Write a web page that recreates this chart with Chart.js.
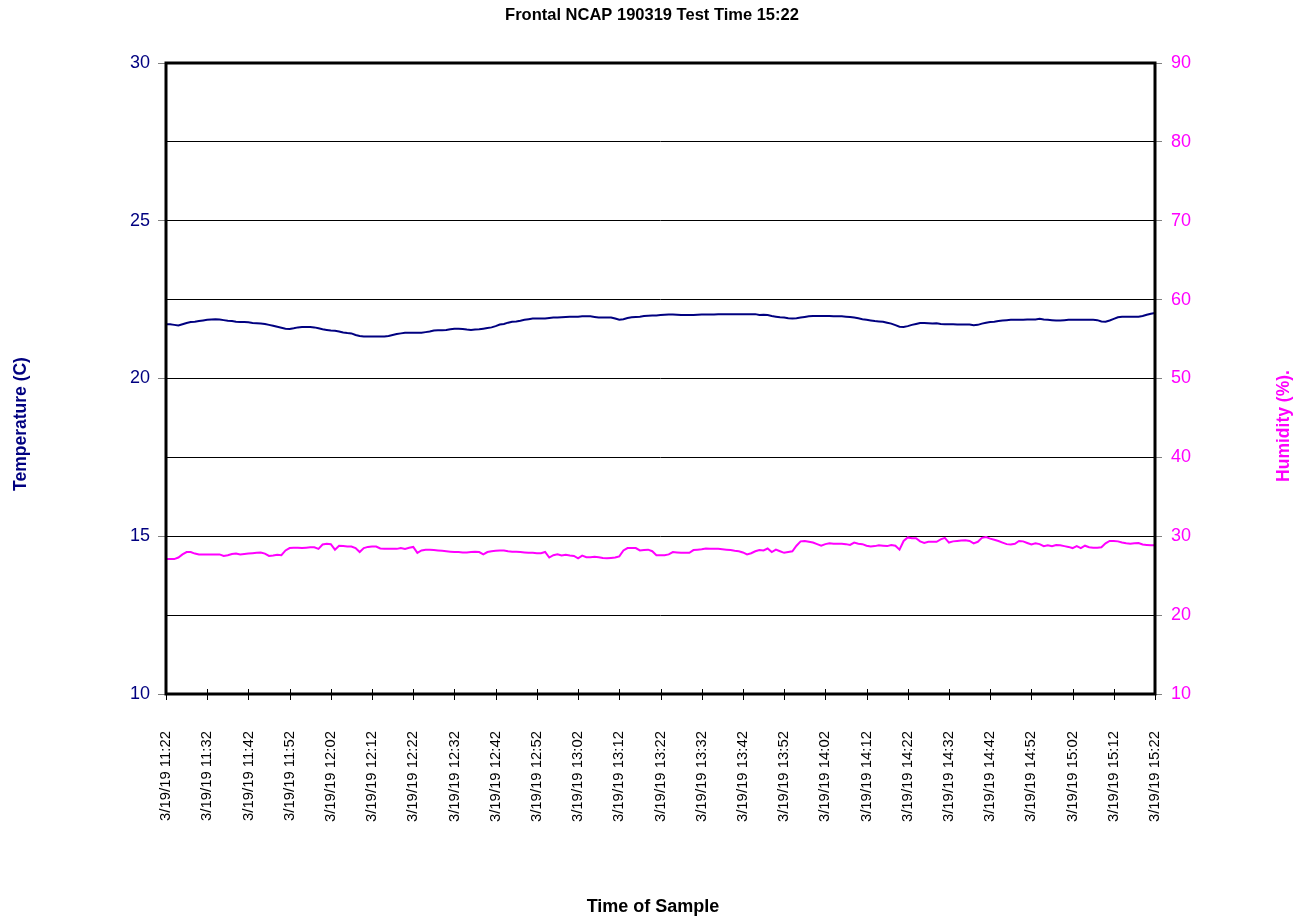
<!DOCTYPE html>
<html>
<head>
<meta charset="utf-8">
<title>Frontal NCAP 190319 Test Time 15:22</title>
<script src="https://cdn.jsdelivr.net/npm/chart.js@4/dist/chart.umd.min.js"></script>
<style>
  html, body { margin: 0; padding: 0; background: #fff; }
  canvas { display: block; }
</style>
</head>
<body>
<canvas id="chart" width="1308" height="920"></canvas>
<script>
// One reading per minute, 11:22 to 15:22 on 3/19/19
const tickLabels = [
  '3/19/19 11:22', '3/19/19 11:32', '3/19/19 11:42', '3/19/19 11:52', '3/19/19 12:02',
  '3/19/19 12:12', '3/19/19 12:22', '3/19/19 12:32', '3/19/19 12:42', '3/19/19 12:52',
  '3/19/19 13:02', '3/19/19 13:12', '3/19/19 13:22', '3/19/19 13:32', '3/19/19 13:42',
  '3/19/19 13:52', '3/19/19 14:02', '3/19/19 14:12', '3/19/19 14:22', '3/19/19 14:32',
  '3/19/19 14:42', '3/19/19 14:52', '3/19/19 15:02', '3/19/19 15:12', '3/19/19 15:22'
];

// Temperature (C)
const temperature = [
  21.72, 21.72, 21.70, 21.68, 21.72, 21.76, 21.79, 21.80, 21.82, 21.84,
  21.86, 21.87, 21.88, 21.87, 21.85, 21.83, 21.82, 21.80, 21.79, 21.79,
  21.78, 21.76, 21.75, 21.74, 21.73, 21.70, 21.67, 21.64, 21.61, 21.58,
  21.57, 21.59, 21.62, 21.63, 21.63, 21.63, 21.62, 21.59, 21.56, 21.54,
  21.52, 21.51, 21.49, 21.46, 21.44, 21.43, 21.38, 21.35, 21.33, 21.33,
  21.33, 21.33, 21.33, 21.33, 21.35, 21.38, 21.41, 21.43, 21.45, 21.45,
  21.45, 21.45, 21.45, 21.47, 21.49, 21.52, 21.53, 21.53, 21.54, 21.56,
  21.58, 21.58, 21.57, 21.55, 21.54, 21.55, 21.56, 21.58, 21.60, 21.62,
  21.66, 21.71, 21.73, 21.77, 21.80, 21.81, 21.83, 21.86, 21.88, 21.90,
  21.90, 21.90, 21.90, 21.92, 21.93, 21.93, 21.94, 21.95, 21.96, 21.96,
  21.96, 21.97, 21.97, 21.97, 21.95, 21.93, 21.93, 21.93, 21.93, 21.90,
  21.86, 21.88, 21.92, 21.94, 21.95, 21.96, 21.98, 21.99, 22.00, 22.00,
  22.01, 22.02, 22.03, 22.03, 22.02, 22.01, 22.01, 22.01, 22.01, 22.02,
  22.03, 22.03, 22.03, 22.03, 22.04, 22.04, 22.04, 22.04, 22.04, 22.04,
  22.04, 22.04, 22.04, 22.04, 22.01, 22.02, 22.01, 21.98, 21.96, 21.94,
  21.93, 21.91, 21.90, 21.91, 21.93, 21.95, 21.97, 21.98, 21.98, 21.98,
  21.98, 21.98, 21.97, 21.97, 21.97, 21.96, 21.95, 21.93, 21.91, 21.88,
  21.86, 21.84, 21.82, 21.81, 21.80, 21.77, 21.74, 21.69, 21.64, 21.63,
  21.66, 21.70, 21.73, 21.76, 21.76, 21.75, 21.74, 21.75, 21.73, 21.72,
  21.72, 21.72, 21.71, 21.71, 21.71, 21.71, 21.69, 21.70, 21.74, 21.77,
  21.79, 21.80, 21.82, 21.84, 21.85, 21.86, 21.86, 21.86, 21.86, 21.87,
  21.87, 21.87, 21.89, 21.87, 21.86, 21.85, 21.84, 21.84, 21.85, 21.86,
  21.86, 21.86, 21.86, 21.86, 21.86, 21.86, 21.85, 21.81, 21.80, 21.84,
  21.89, 21.94, 21.96, 21.96, 21.96, 21.96, 21.96, 21.98, 22.02, 22.05,
  22.08
];

// Humidity (%)
const humidity = [
  27.1, 27.1, 27.1, 27.3, 27.7, 28.0, 28.0, 27.8, 27.7, 27.7,
  27.7, 27.7, 27.7, 27.7, 27.5, 27.6, 27.75, 27.8, 27.7, 27.75,
  27.8, 27.85, 27.9, 27.95, 27.8, 27.5, 27.55, 27.65, 27.6, 28.2,
  28.5, 28.55, 28.55, 28.5, 28.55, 28.6, 28.6, 28.4, 28.95, 29.05,
  29.0, 28.3, 28.8, 28.75, 28.7, 28.7, 28.5, 28.0, 28.5, 28.65,
  28.7, 28.7, 28.45, 28.4, 28.4, 28.4, 28.4, 28.5, 28.4, 28.55,
  28.65, 27.9, 28.2, 28.3, 28.3, 28.25, 28.2, 28.15, 28.1, 28.05,
  28.0, 28.0, 27.95, 27.95, 28.0, 28.05, 28.0, 27.7, 28.0, 28.1,
  28.15, 28.2, 28.2, 28.1, 28.05, 28.05, 28.0, 27.95, 27.9, 27.9,
  27.85, 27.85, 28.0, 27.3, 27.6, 27.7, 27.55, 27.65, 27.55, 27.5,
  27.2, 27.55, 27.35, 27.35, 27.4, 27.35, 27.25, 27.2, 27.25, 27.3,
  27.45, 28.2, 28.5, 28.5, 28.5, 28.2, 28.25, 28.3, 28.1, 27.6,
  27.6, 27.6, 27.7, 28.0, 27.95, 27.9, 27.9, 27.9, 28.25, 28.3,
  28.35, 28.45, 28.4, 28.4, 28.4, 28.35, 28.3, 28.25, 28.15, 28.1,
  27.95, 27.7, 27.85, 28.1, 28.25, 28.2, 28.45, 28.0, 28.3, 28.1,
  27.9, 28.0, 28.1, 28.8, 29.35, 29.4, 29.3, 29.2, 29.0, 28.8,
  29.0, 29.1, 29.05, 29.05, 29.05, 29.0, 28.9, 29.2, 29.05, 29.0,
  28.8, 28.7, 28.75, 28.85, 28.8, 28.75, 28.9, 28.8, 28.3, 29.4,
  29.85, 29.75, 29.75, 29.35, 29.15, 29.3, 29.3, 29.3, 29.6, 29.8,
  29.2, 29.35, 29.4, 29.45, 29.5, 29.4, 29.1, 29.3, 29.8, 29.9,
  29.7, 29.55, 29.4, 29.2, 29.0, 28.95, 29.05, 29.4, 29.35, 29.15,
  28.95, 29.1, 29.0, 28.75, 28.85, 28.75, 28.9, 28.85, 28.75, 28.65,
  28.5, 28.75, 28.5, 28.8, 28.6, 28.55, 28.55, 28.6, 29.1, 29.4,
  29.4, 29.35, 29.2, 29.1, 29.05, 29.1, 29.15, 28.95, 28.9, 28.85,
  28.85
];

const FONT = 'Arial, "Liberation Sans", sans-serif';
const NAVY = '#000080';
const MAGENTA = '#FF00FF';

// Title, axis titles, plot frame and the x-axis tick marks
const decorations = {
  id: 'decorations',
  afterDraw(chart) {
    const ctx = chart.ctx;
    const a = chart.chartArea;
    const xs = chart.scales.x;
    ctx.save();

    // x tick marks crossing the bottom edge
    ctx.strokeStyle = '#000';
    ctx.lineWidth = 1;
    for (let i = 0; i < tickLabels.length; i++) {
      const px = Math.round(xs.getPixelForValue(i * 10)) + 0.5;
      ctx.beginPath();
      ctx.moveTo(px, a.bottom - 5);
      ctx.lineTo(px, a.bottom + 6);
      ctx.stroke();
    }

    // plot frame
    ctx.lineWidth = 3;
    ctx.strokeStyle = '#000';
    ctx.strokeRect(a.left, a.top, a.right - a.left, a.bottom - a.top);

    // chart title
    ctx.fillStyle = '#000';
    ctx.textAlign = 'center';
    ctx.textBaseline = 'middle';
    ctx.font = 'bold 16.5px ' + FONT;
    ctx.fillText('Frontal NCAP 190319 Test Time 15:22', 652, 15);

    // x axis title
    ctx.font = 'bold 18px ' + FONT;
    ctx.fillText('Time of Sample', 653, 907);

    // left axis title
    ctx.save();
    ctx.translate(21, 424);
    ctx.rotate(-Math.PI / 2);
    ctx.fillStyle = NAVY;
    ctx.font = 'bold 17.5px ' + FONT;
    ctx.fillText('Temperature (C)', 0, 0);
    ctx.restore();

    // right axis title
    ctx.save();
    ctx.translate(1284, 426);
    ctx.rotate(-Math.PI / 2);
    ctx.fillStyle = MAGENTA;
    ctx.font = 'bold 17.5px ' + FONT;
    ctx.fillText('Humidity (%).', 0, 0);
    ctx.restore();

    ctx.restore();
  }
};

new Chart(document.getElementById('chart'), {
  type: 'line',
  data: {
    datasets: [
      {
        label: 'Temperature (C)',
        data: temperature.map((v, i) => ({ x: i, y: v })),
        yAxisID: 'y',
        borderColor: NAVY,
        borderWidth: 2,
        pointRadius: 0,
        tension: 0,
        fill: false
      },
      {
        label: 'Humidity (%)',
        data: humidity.map((v, i) => ({ x: i, y: v })),
        yAxisID: 'y1',
        borderColor: MAGENTA,
        borderWidth: 2,
        pointRadius: 0,
        tension: 0,
        fill: false
      }
    ]
  },
  options: {
    responsive: false,
    animation: false,
    devicePixelRatio: 1,
    layout: { padding: { top: 63, left: 0, right: 0, bottom: 0 } },
    plugins: {
      legend: { display: false },
      title: { display: false },
      tooltip: { enabled: false }
    },
    scales: {
      x: {
        type: 'linear',
        min: 0,
        max: 240,
        grid: { display: false },
        border: { display: false },
        ticks: {
          stepSize: 10,
          autoSkip: false,
          maxRotation: 90,
          minRotation: 90,
          padding: 29,
          color: '#000',
          font: { family: FONT, size: 14.9 },
          callback: (v) => tickLabels[Math.round(v / 10)]
        },
        afterFit(scale) { scale.height = 920 - 694; }
      },
      y: {
        position: 'left',
        min: 10,
        max: 30,
        grid: {
          drawOnChartArea: false,
          tickLength: 8,
          color: '#808080'
        },
        border: { display: false },
        ticks: {
          stepSize: 5,
          padding: 8,
          color: NAVY,
          font: { family: FONT, size: 18 }
        },
        afterFit(scale) { scale.width = 166; }
      },
      y1: {
        position: 'right',
        min: 10,
        max: 90,
        grid: {
          drawOnChartArea: true,
          color: '#000',
          lineWidth: 1,
          tickLength: 7,
          tickColor: '#808080'
        },
        border: { display: false },
        ticks: {
          stepSize: 10,
          padding: 9,
          color: MAGENTA,
          font: { family: FONT, size: 18 }
        },
        afterFit(scale) { scale.width = 1308 - 1155; }
      }
    }
  },
  plugins: [decorations]
});
</script>
</body>
</html>
